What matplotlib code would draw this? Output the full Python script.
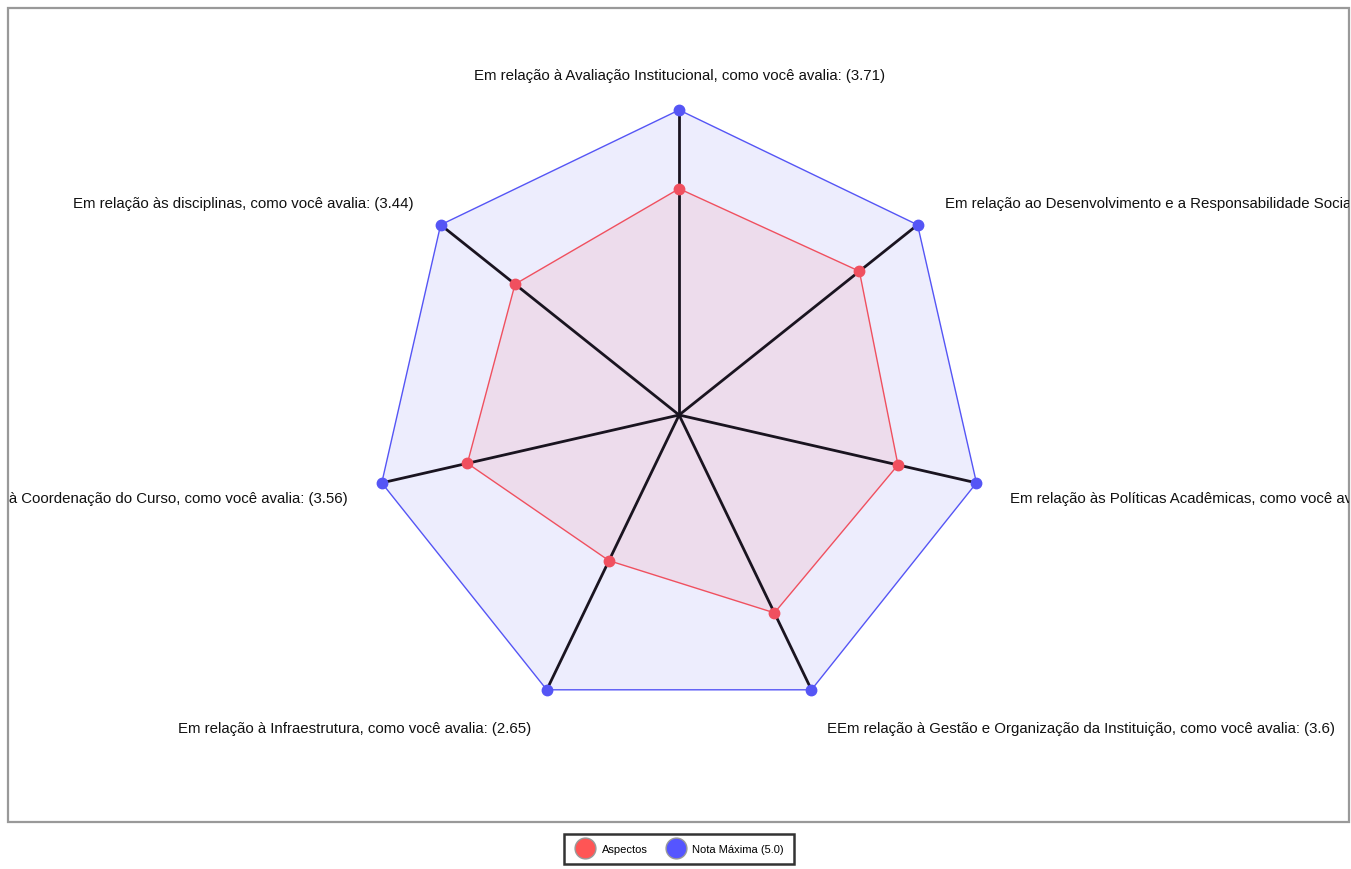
import numpy as np
import matplotlib.pyplot as plt
from matplotlib.lines import Line2D
from matplotlib.patches import Rectangle

plt.rcParams['font.family'] = ['Liberation Sans', 'DejaVu Sans']

aspectos = [
    'Em relação à Avaliação Institucional, como você avalia: (3.71)',
    'Em relação ao Desenvolvimento e a Responsabilidade Social, como você avalia: (3.78)',
    'Em relação às Políticas Acadêmicas, como você avalia: (3.68)',
    'EEm relação à Gestão e Organização da Instituição, como você avalia: (3.6)',
    'Em relação à Infraestrutura, como você avalia: (2.65)',
    'Em relação à Coordenação do Curso, como você avalia: (3.56)',
    'Em relação às disciplinas, como você avalia: (3.44)',
]
notas = [3.71, 3.78, 3.68, 3.6, 2.65, 3.56, 3.44]
nota_maxima = [5.0] * 7

red = '#f0505f'
blue = '#5555f5'

fig = plt.figure(figsize=(13.51, 8.70), dpi=100)
ax = fig.add_axes([8 / 1351, 47 / 870, 1341 / 1351, 814 / 870])
ax.set_xlim(-11.0, 10.98)
ax.set_ylim(-6.672, 6.672)
ax.set_aspect('equal')
ax.axis('off')

# frame round the chart
ax.add_patch(Rectangle((0, 0), 1, 1, transform=ax.transAxes, fill=False,
                       edgecolor='#999999', lw=1.6, clip_on=False))

ang = np.arange(len(notas)) * 2 * np.pi / len(notas)
sx, sy = np.sin(ang), np.cos(ang)

def pts(vals):
    v = np.asarray(vals)
    return v * sx, v * sy

mx, my = pts(nota_maxima)
nx, ny = pts(notas)

ax.fill(mx, my, color=blue, alpha=0.1, lw=0, zorder=1)
ax.plot(np.r_[mx, mx[0]], np.r_[my, my[0]], color=blue, lw=1, zorder=2)
ax.fill(nx, ny, color=red, alpha=0.1, lw=0, zorder=3)
ax.plot(np.r_[nx, nx[0]], np.r_[ny, ny[0]], color=red, lw=1, zorder=4)

for x, y in zip(mx, my):
    ax.plot([0, x], [0, y], color='#1a1420', lw=2, zorder=5)

ax.plot(mx, my, 'o', color=blue, ms=7.5, mec=blue, zorder=6)
ax.plot(nx, ny, 'o', color=red, ms=7.5, mec=red, zorder=7)

r_lab = 5.57
for lab, a in zip(aspectos, ang):
    x, y = r_lab * np.sin(a), r_lab * np.cos(a)
    if abs(np.sin(a)) < 1e-6:
        ha = 'center'
    elif np.sin(a) > 0:
        ha = 'left'
    else:
        ha = 'right'
    va = 'center' if y > 0 else 'top'
    ax.text(x, y, lab, ha=ha, va=va, fontsize=10.8, color='#111111', clip_on=True)

handles = [
    Line2D([], [], ls='', marker='o', ms=15, color='#ff5555', mec='#999999', label='Aspectos'),
    Line2D([], [], ls='', marker='o', ms=15, color='#5555ff', mec='#999999', label='Nota Máxima (5.0)'),
]
leg = fig.legend(handles=handles, loc='upper center', bbox_to_anchor=(679 / 1351, 1 - 835 / 870),
                 ncol=2, fontsize=8, frameon=True, fancybox=False, borderpad=0.9,
                 handletextpad=0.5, columnspacing=1.5, borderaxespad=0)
leg.get_frame().set_edgecolor('black')
leg.get_frame().set_linewidth(1.8)

fig.savefig('out.png', dpi=100)
